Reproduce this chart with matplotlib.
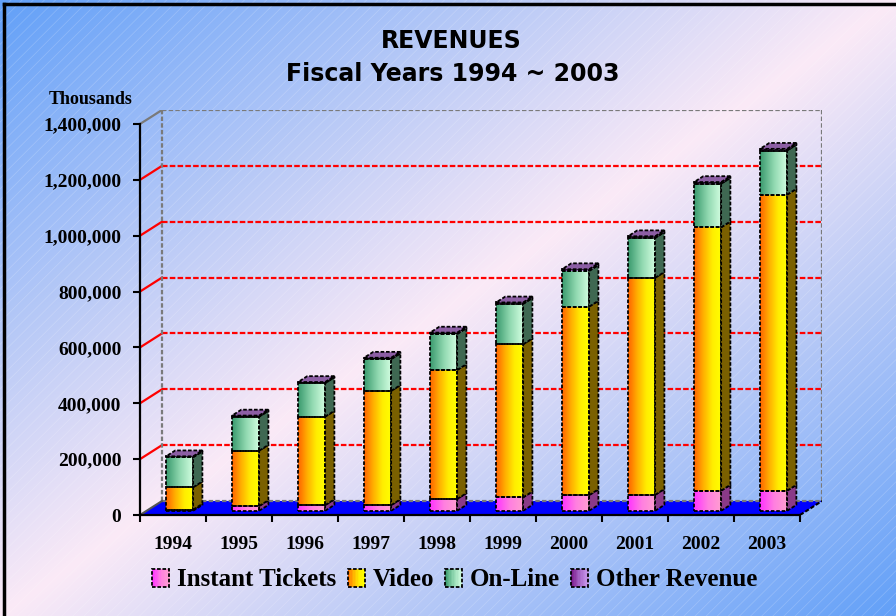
"""
Revenues 1994-2003, 3-D style stacked columns on a gradient slide background.
"""
import numpy as np
import matplotlib
matplotlib.use("Agg")
import matplotlib.pyplot as plt
from matplotlib.patches import Polygon, Rectangle, Patch
from matplotlib.lines import Line2D
from matplotlib.colors import LinearSegmentedColormap, to_rgb
from matplotlib.legend_handler import HandlerBase
from matplotlib.ticker import FuncFormatter, FixedLocator

# --------------------------------------------------------------------------- #
# Data (values in the axis unit, i.e. thousands)                              #
# --------------------------------------------------------------------------- #
years = ["1994", "1995", "1996", "1997", "1998",
         "1999", "2000", "2001", "2002", "2003"]
instant = [4000, 17000, 20000, 20000, 42000, 48000, 56000, 57000, 72000, 72000]
video = [80000, 198000, 317000, 409000, 462000, 548000, 675000, 777000, 943000, 1060000]
online = [108000, 122000, 120000, 114000, 129000, 145000, 128000, 143000, 156000, 158000]
other = [3000, 4000, 4000, 5000, 5000, 5000, 6000, 6000, 6000, 6000]

series_names = ["Instant Tickets", "Video", "On-Line", "Other Revenue"]
y_ticks = [0, 200000, 400000, 600000, 800000, 1000000, 1200000, 1400000]

# --------------------------------------------------------------------------- #
# Styles                                                                      #
# --------------------------------------------------------------------------- #
front_cmaps = [
    LinearSegmentedColormap.from_list("inst", ["#ff33ff", "#ff7fe0", "#ffa0d0"]),
    LinearSegmentedColormap.from_list("vid", ["#ff6400", "#ffb000", "#ffee00", "#ffff00"]),
    LinearSegmentedColormap.from_list("onl", ["#3a9a6e", "#90d8b0", "#d4ffe2"]),
    LinearSegmentedColormap.from_list("oth", ["#7a1a8a", "#a868c8", "#cc9cf0"]),
]
side_colors = ["#8a3a88", "#7a6000", "#3f6852", "#5e3a6e"]
top_color = "#8c5ea4"
EDGE = dict(edgecolor="black", linewidth=1.3, linestyle=(0, (2, 1)))

W, H = 896, 616
FX0, FX1, FY0, FY1 = 140, 800, 515, 124   # front plane of the plot box (px)
DPX, DPY = 22, 14                          # depth of the box (px)
D0, D1 = 0.30, 0.72                        # bar depth range (fraction of box)
HW = 0.205                                 # half bar width (category units)

plt.rcParams["font.family"] = ["Liberation Serif", "DejaVu Serif"]
plt.rcParams["font.weight"] = "bold"
plt.rcParams["hatch.linewidth"] = 0.6

fig = plt.figure(figsize=(W / 100, H / 100), dpi=100)

# ----- background: diagonal blue / pink gradient -------------------------- #
bg = fig.add_axes([0, 0, 1, 1], zorder=-10)
gx, gy = np.meshgrid(np.linspace(0, 1, 300), np.linspace(0, 1, 200))
t = 1 - np.abs(gx + gy - 1)            # 0 at top-left / bottom-right, 1 on anti-diagonal
blue = np.array(to_rgb("#62a0f8"))
pink = np.array(to_rgb("#fbeaf6"))
img = blue[None, None, :] * (1 - t[..., None]) + pink[None, None, :] * t[..., None]
bg.imshow(img, extent=(0, 1, 0, 1), aspect="auto", origin="upper")
bg.add_patch(Rectangle((0, 0), 1, 1, transform=bg.transAxes, fill=False,
                       hatch="///", edgecolor=(1, 1, 1, 0.18), lw=0))
bg.set_xlim(0, 1)
bg.set_ylim(0, 1)
bg.axis("off")

# ----- main axes: front plane + depth -------------------------------------- #
ncat = len(years)
ymax = y_ticks[-1]
ax = fig.add_axes([FX0 / W, 1 - FY0 / H, (FX1 + DPX - FX0) / W, (FY0 - FY1 + DPY) / H])
ax.patch.set_visible(False)
dxd = ncat * DPX / (FX1 - FX0)        # box depth in category units
dyd = ymax * DPY / (FY0 - FY1)        # box depth in value units


def P(x, v, d):
    """Project (category, value, depth) onto the 2-D data plane."""
    return (x + d * dxd, v + d * dyd)


xl, xr = -0.5, ncat - 0.5

# floor
ax.add_patch(Polygon([P(xl, 0, 0), P(xr, 0, 0), P(xr, 0, 1), P(xl, 0, 1)],
                     closed=True, facecolor="#0000ff", edgecolor="none", zorder=1))
ax.plot(*zip(P(xr, 0, 0), P(xr, 0, 1)), color="black", lw=1.5, ls=(0, (2, 1)), zorder=2)
ax.plot(*zip(P(xl, 0, 0), P(xl, 0, 1)), color="#555555", lw=1.5, zorder=2)

# gridlines on back and side walls
for v in y_ticks[1:-1]:
    ax.plot(*zip(P(xl, v, 1), P(xr, v, 1)), color="#ff0000", lw=1.6,
            ls=(0, (2.5, 1)), zorder=1)
    ax.plot(*zip(P(xl, v, 0), P(xl, v, 1)), color="#ff0000", lw=1.6, zorder=1)
# wall borders
gray = dict(color="#7a7a7a", lw=1.6, ls=(0, (2, 1)), zorder=1)
ax.plot(*zip(P(xl, ymax, 1), P(xr, ymax, 1)), **gray)
ax.plot(*zip(P(xl, 0, 1), P(xl, ymax, 1)), **gray)
ax.plot(*zip(P(xr, 0, 1), P(xr, ymax, 1)), **gray)
ax.plot(*zip(P(xl, 0, 1), P(xr, 0, 1)), **gray)
ax.plot(*zip(P(xl, ymax, 0), P(xl, ymax, 1)), color="#7a7a7a", lw=1.6, zorder=1)

# bars
grad = np.linspace(0, 1, 64)[None, :]
stack = np.array([instant, video, online, other], dtype=float)
for i in range(ncat):
    base = 0.0
    for k in range(4):
        v0, v1 = base, base + stack[k, i]
        base = v1
        x0, y0 = P(i - HW, v0, D0)
        x1, y1 = P(i + HW, v1, D0)
        ax.imshow(grad, cmap=front_cmaps[k], extent=(x0, x1, y0, y1),
                  aspect="auto", zorder=3, interpolation="bilinear")
        ax.add_patch(Rectangle((x0, y0), x1 - x0, y1 - y0, fill=False, zorder=4, **EDGE))
        side = [P(i + HW, v0, D0), P(i + HW, v0, D1), P(i + HW, v1, D1), P(i + HW, v1, D0)]
        ax.add_patch(Polygon(side, closed=True, facecolor=side_colors[k], zorder=4, **EDGE))
    top = [P(i - HW, base, D0), P(i + HW, base, D0), P(i + HW, base, D1), P(i - HW, base, D1)]
    ax.add_patch(Polygon(top, closed=True, facecolor=top_color, zorder=4, **EDGE))

ax.set_xlim(-0.5, ncat - 0.5 + dxd)
ax.set_ylim(0, ymax + dyd)

# axes, ticks
for s in ("top", "right"):
    ax.spines[s].set_visible(False)
ax.spines["left"].set_bounds(0, ymax)
ax.spines["bottom"].set_bounds(xl, xr)
for s in ("left", "bottom"):
    ax.spines[s].set_linewidth(1.6)
    ax.spines[s].set_zorder(5)
ax.yaxis.set_major_locator(FixedLocator(y_ticks))
ax.yaxis.set_major_formatter(FuncFormatter(lambda v, p: f"{v:,.0f}"))
ax.tick_params(axis="y", length=5, width=1.5, pad=8.5, labelsize=14)
ax.xaxis.set_major_locator(FixedLocator(np.arange(ncat + 1) - 0.5))
ax.xaxis.set_major_formatter(FuncFormatter(lambda v, p: ""))
ax.xaxis.set_minor_locator(FixedLocator(np.arange(ncat)))
ax.set_xticklabels(years, minor=True)
ax.tick_params(axis="x", which="major", length=5, width=1.5)
ax.tick_params(axis="x", which="minor", length=0, pad=15, labelsize=14)

# titles
title_font = dict(family=["DejaVu Sans"], weight="bold", fontsize=17)
fig.text(451 / W, 1 - 41 / H, "REVENUES", ha="center", va="center", **title_font)
fig.text(453 / W, 1 - 74 / H, "Fiscal Years 1994 ~ 2003", ha="center", va="center",
         **title_font)
fig.text(91 / W, 1 - 100 / H, "Thousands", ha="center", va="center", fontsize=13)


# legend with gradient swatches
class GradHandler(HandlerBase):
    def __init__(self, cmap):
        super().__init__()
        self.cmap = cmap

    def create_artists(self, legend, orig_handle, xdescent, ydescent,
                       width, height, fontsize, trans):
        n = 12
        arts = []
        for j in range(n):
            arts.append(Rectangle((-xdescent + width * j / n, -ydescent), width / n + 0.2,
                                  height, facecolor=self.cmap((j + 0.5) / n),
                                  edgecolor="none", transform=trans))
        arts.append(Rectangle((-xdescent, -ydescent), width, height, fill=False,
                              transform=trans, **EDGE))
        return arts


handles = [Patch(label=n) for n in series_names]
leg = fig.legend(handles=handles, loc="center", bbox_to_anchor=(455 / W, 1 - 580 / H),
                 ncol=4, frameon=False,
                 prop=dict(family=["Liberation Serif"], weight="bold", size=18),
                 handlelength=0.68, handleheight=0.75, handletextpad=0.32,
                 columnspacing=0.44,
                 handler_map={h: GradHandler(c) for h, c in zip(handles, front_cmaps)})

# slide frame (top and left edges)
fig.add_artist(Line2D([0.004, 1], [1 - 3.5 / H] * 2, transform=fig.transFigure,
                      color="black", lw=2.5))
fig.add_artist(Line2D([0.0045] * 2, [0, 1 - 3.5 / H], transform=fig.transFigure,
                      color="black", lw=2.5))

fig.savefig("out.png", dpi=100)
